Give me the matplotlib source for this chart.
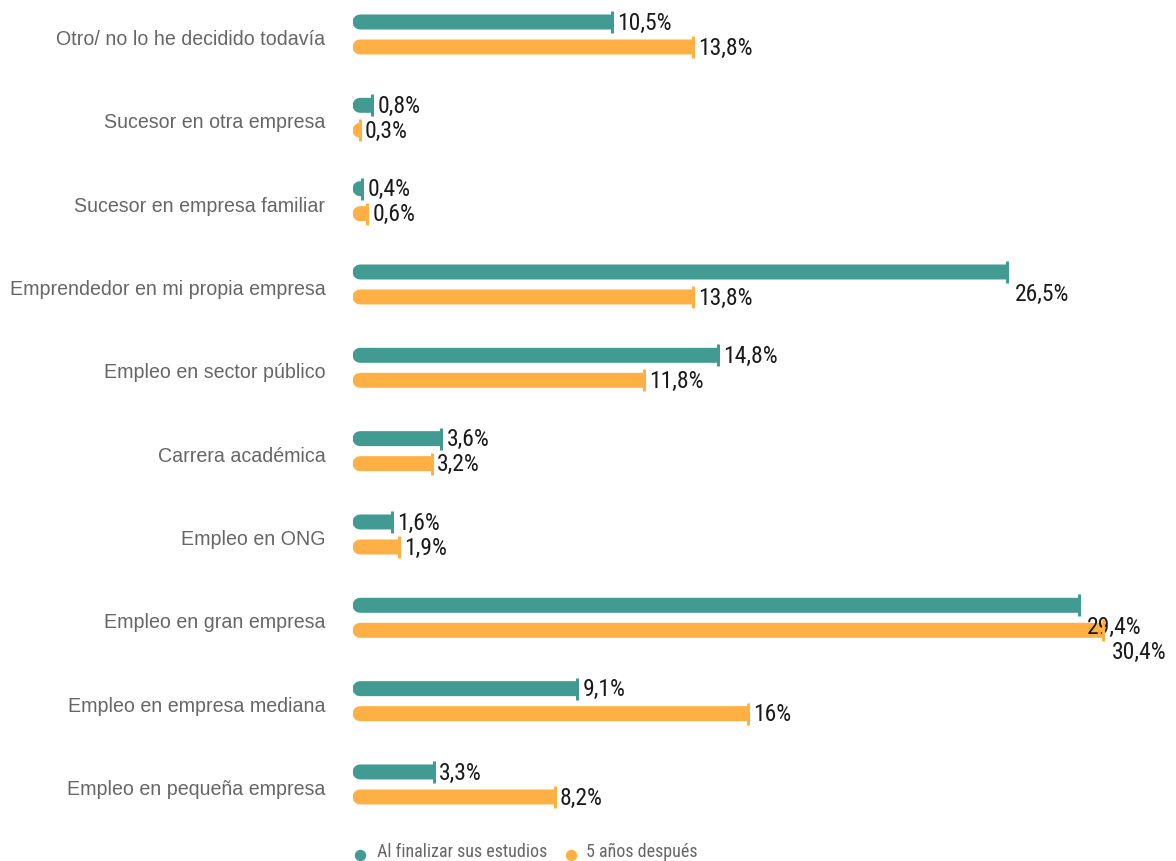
import matplotlib
matplotlib.use('Agg')
import matplotlib.pyplot as plt
from matplotlib.patches import Rectangle

categories = [
    'Otro/ no lo he decidido todavía',
    'Sucesor en otra empresa',
    'Sucesor en empresa familiar',
    'Emprendedor en mi propia empresa',
    'Empleo en sector público',
    'Carrera académica',
    'Empleo en ONG',
    'Empleo en gran empresa',
    'Empleo en empresa mediana',
    'Empleo en pequeña empresa',
]
al_finalizar = [10.5, 0.8, 0.4, 26.5, 14.8, 3.6, 1.6, 29.4, 9.1, 3.3]
cinco_anos = [13.8, 0.3, 0.6, 13.8, 11.8, 3.2, 1.9, 30.4, 16.0, 8.2]
series_names = ['Al finalizar sus estudios', '5 años después']

GREEN = '#429b93'
ORANGE = '#ffb045'

NARROW = ['Roboto Condensed', 'Archivo Narrow', 'Liberation Sans', 'DejaVu Sans']
REGULAR = ['Liberation Sans', 'DejaVu Sans']
plt.rcParams['font.family'] = REGULAR

W, H = 1176, 861
X0 = 352.5          # pixel where the bars start
PX_PER_PCT = 24.7
ROW_PX = 83.33
TOP_PX = 34.5       # centre of the first group

fig = plt.figure(figsize=(W / 100, H / 100), dpi=100)
ax = fig.add_axes([X0 / W, 0, 1 - X0 / W, 1])
ax.set_xlim(0, (W - X0) / PX_PER_PCT)
ax.set_ylim(9 + (H - (TOP_PX + 9 * ROW_PX)) / ROW_PX, -TOP_PX / ROW_PX)
for s in ax.spines.values():
    s.set_visible(False)
ax.set_xticks([])

bar_h = 15 / ROW_PX
off = 12.5 / ROW_PX
r = 7.5 / PX_PER_PCT     # radius of the rounded end, in percent units


def draw_bar(y, v, color):
    # thick line with round caps, cut off at the value -> rounded left end only
    x_end = max(v, r + 0.5)
    line, = ax.plot([r, x_end], [y, y], color=color, lw=15 * 0.72,
                    solid_capstyle='round', snap=False, zorder=2)
    line.set_clip_path(Rectangle((0, y - bar_h), v, 2 * bar_h,
                                 transform=ax.transData))
    ax.plot([v], [y], marker='|', markersize=23 * 0.72, mew=3 * 0.72,
            color=color, zorder=3)
    label = f'{v:g}%'.replace('.', ',')
    if v > 25:
        ax.text(v + 8 / PX_PER_PCT, y + 22 / ROW_PX, label, fontsize=17,
                family=NARROW, color='#1a1a1a', ha='left', va='center')
    else:
        ax.text(v + 5 / PX_PER_PCT, y + 1 / ROW_PX, label, fontsize=17,
                family=NARROW, color='#1a1a1a', ha='left', va='center')


for i, (a, b) in enumerate(zip(al_finalizar, cinco_anos)):
    draw_bar(i - off, a, GREEN)
    draw_bar(i + off, b, ORANGE)

# category names sit a few pixels below the middle of each pair
ax.set_yticks([i + 3 / ROW_PX for i in range(len(categories))])
ax.set_yticklabels(categories, fontsize=14.1, color='#666666')
ax.tick_params(axis='y', length=0, pad=27 * 0.72)

# legend along the bottom edge
dot_y = 1 - 855 / H
txt_y = 1 - 852 / H
for xpx, txpx, name, color in [(360, 377, series_names[0], GREEN),
                               (571, 586, series_names[1], ORANGE)]:
    fig.add_artist(plt.Line2D([xpx / W], [dot_y], marker='o', markersize=7.2,
                              color=color, linestyle='none',
                              transform=fig.transFigure))
    fig.text(txpx / W, txt_y, name, fontsize=13, family=NARROW,
             color='#666666', ha='left', va='center')

fig.savefig('out.png', dpi=100)
